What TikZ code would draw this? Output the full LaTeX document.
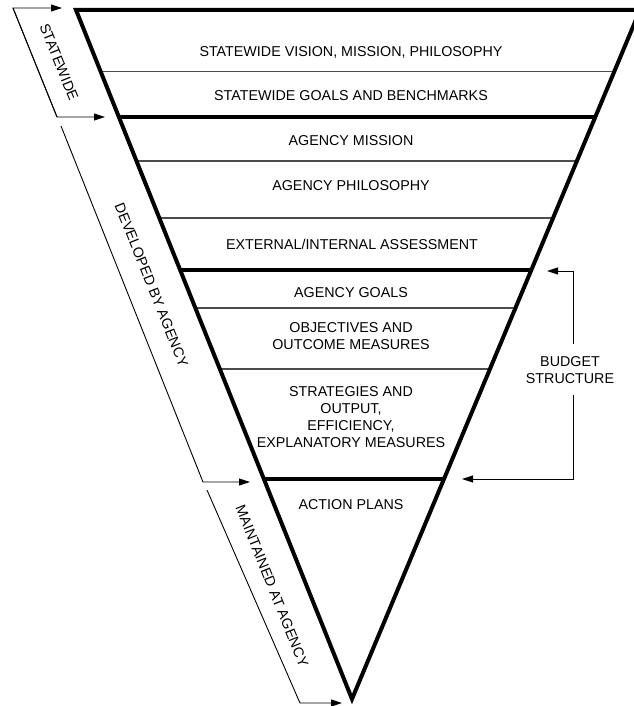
\documentclass[tikz,border=0pt]{standalone}
\usepackage{fontspec}
\setmainfont{Liberation Sans}
\usetikzlibrary{arrows.meta,calc}
\begin{document}
\begin{tikzpicture}[x={(1pt,0)},y={(0,-1pt)},
  lbl/.style={font=\fontsize{14.3}{17}\selectfont, inner sep=0pt, align=center},
  rowtxt/.style={lbl, anchor=base},
  rowblock/.style={lbl, anchor=north},
  sidetxt/.style={lbl, rotate=-68.13, anchor=center},
  thickdiv/.style={line width=3.3pt},
  thindiv/.style={line width=1.1pt, black!70},
  brk/.style={line width=0.9pt, black},
  brkarrow/.style={brk, -{Triangle[length=11pt,width=7pt]}}
]
\useasboundingbox (0,0) rectangle (633,706);
% triangle corners
\coordinate (A) at (76,10);
\coordinate (B) at (640,10);
\coordinate (C) at (352,699);
% dividers: t = (y-10)/689
\foreach \y/\s in {71.7/thindiv, 117/thickdiv, 161/thindiv, 218/thindiv, 270/thickdiv, 308/thindiv, 369/thindiv, 479/thickdiv} {
  \pgfmathsetmacro{\t}{(\y-10)/689}
  \draw[\s] ($(A)!\t!(C)$) -- ($(B)!\t!(C)$);
}
\draw[line width=4pt, line join=miter] (A) -- (B) -- (C) -- cycle;

% row texts
\node[rowtxt] (r1) at (351,56.7) {STATEWIDE VISION, MISSION, PHILOSOPHY};
\node[rowtxt] (r2) at (351,101) {STATEWIDE GOALS AND BENCHMARKS};
\node[rowtxt] (r3) at (351,146) {AGENCY MISSION};
\node[rowtxt] (r4) at (351,190) {AGENCY PHILOSOPHY};
\node[rowtxt] (r5) at (352,249) {EXTERNAL/INTERNAL ASSESSMENT};
\node[rowtxt] (r6) at (351,297.7) {AGENCY GOALS};
\node[rowblock] (r7) at (351,322) {OBJECTIVES AND\\OUTCOME MEASURES};
\node[rowblock] (r8) at (351,386.5) {STRATEGIES AND\\OUTPUT,\\EFFICIENCY,\\EXPLANATORY MEASURES};
\node[rowtxt] (r9) at (351,509) {ACTION PLANS};

% side labels
\node[sidetxt] (sw) at (59,62) {STATEWIDE};
\node[sidetxt] (dev) at (151.5,285) {DEVELOPED BY AGENCY};
\node[sidetxt] (mnt) at (272,586) {MAINTAINED AT AGENCY};

% statewide bracket
\coordinate (s1) at (13,8);
\coordinate (s2) at (57,117);
\coordinate (sa) at (62,8);
\coordinate (sb) at (105,117);
\draw[brkarrow] (s2) -- (s1) -- (sa);
\draw[brkarrow] (s1) -- (s2) -- (sb);
% developed bracket
\coordinate (d1) at (61,126);
\coordinate (d2) at (203,482);
\coordinate (db) at (250,482);
\draw[brkarrow] (d1) -- (d2) -- (db);
% maintained bracket
\coordinate (m1) at (207,490);
\coordinate (m2) at (300,703);
\coordinate (mb) at (342,703);
\draw[brkarrow] (m1) -- (m2) -- (mb);

% budget structure
\node[rowblock] (bud) at (570,356) {BUDGET\\STRUCTURE};
\coordinate (bt) at (573,271);
\coordinate (bta) at (547,271);
\coordinate (bb) at (573,479);
\coordinate (bba) at (462,479);
\draw[brkarrow] ([yshift=12pt]bud.north -| bt) -- (bt) -- (bta);
\draw[brkarrow] ([yshift=-11pt]bud.south -| bb) -- (bb) -- (bba);
\end{tikzpicture}
\end{document}
